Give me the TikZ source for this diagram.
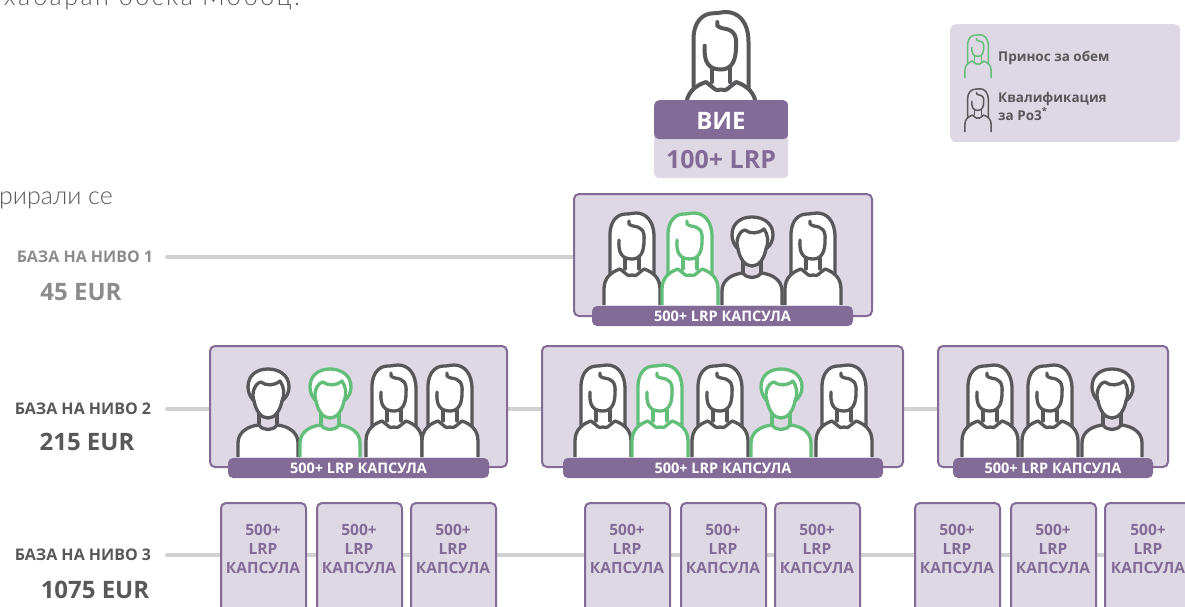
\documentclass[tikz,border=0pt]{standalone}
\usepackage{fontspec}
\setmainfont{Open Sans}
\newfontfamily\thinfont{Lato Light}
\usetikzlibrary{backgrounds}
\definecolor{capsule}{HTML}{826C97}
\definecolor{capsulelight}{HTML}{DED8E5}
\definecolor{personline}{HTML}{58585A}
\definecolor{personadd}{HTML}{62BE78}
\definecolor{levelline}{HTML}{D1D1D3}

\begin{document}
\begin{tikzpicture}[
        x=1pt, y=-1pt,
        panel/.style={
            draw=capsule,
            line width=2pt,
            fill=capsulelight,
            rectangle,
            rounded corners=5pt,
            anchor=north west,
            outer sep=0pt,
            inner sep=0pt
        },
        band/.style={
            fill=capsule,
            rectangle,
            rounded corners=5pt,
            minimum height=20pt,
            inner sep=0pt,
            text=white,
            font=\bfseries\fontsize{14.5}{14.5}\selectfont
        },
        small/.style={
            panel,
            minimum width=85pt,
            minimum height=112pt,
        },
        smalltext/.style={
            text=capsule,
            align=center,
            font=\bfseries\fontsize{15.5}{19}\selectfont
        },
        levelname/.style={
            font=\bfseries\fontsize{16}{16}\selectfont,
            inner sep=0pt
        },
        levelsum/.style={
            font=\bfseries\fontsize{24}{24}\selectfont,
            inner sep=0pt
        },
        legendtext/.style={
            anchor=west,
            align=left,
            text=personline,
            inner sep=0pt,
            font=\bfseries\fontsize{13.5}{18}\selectfont
        },
        thintext/.style={
            inner sep=0pt,
            text=personline,
            font=\thinfont\fontsize{25}{25}\selectfont
        },
        level/.style={
            draw=levelline,
            line width=4pt,
            line cap=round
        },
        woman/.pic={
            % hair, then face and neck, then body
            \draw[fill, line join=round] (-22,-30) -- (-22,-70) .. controls (-22,-85) and (-14,-91) .. (-6,-91)
                .. controls (-2,-91) and (1,-92) .. (4,-92) .. controls (14,-92) and (22,-84) .. (22,-68) -- (22,-30);
            \draw[line cap=round] (-13,-65) .. controls (-14,-52) and (-10,-46) .. (0,-46)
                .. controls (9,-46) and (12,-54) .. (12,-64) .. controls (13,-75) and (9,-78) .. (1,-79)
                .. controls (-3,-80) and (-4,-82) .. (-3,-84);
            \draw[line cap=round] (-7,-47) -- (-7,-36) (7,-47) -- (7,-36);
            \draw[fill, line join=round] (-28,0) -- (-28,-16) .. controls (-28,-27) and (-21,-33) .. (-12,-36)
                -- (-7,-32) .. controls (-4,-29) and (-2,-29) .. (0,-30) .. controls (2,-29) and (4,-29) .. (7,-32)
                -- (12,-36) .. controls (21,-33) and (28,-27) .. (28,-16) -- (28,0);
        },
        man/.pic={
            % neck, then body, then head with its fringe
            \draw (-9,-44) -- (-9,-32) (9,-44) -- (9,-32);
            \draw[fill, line join=round] (-30,0) -- (-30,-14) .. controls (-30,-25) and (-20,-31) .. (-9,-32)
                .. controls (-5,-26) and (5,-26) .. (9,-32) .. controls (20,-31) and (30,-25) .. (30,-14) -- (30,0);
            \draw[fill, line join=round] (-14,-56) .. controls (-12,-46) and (-7,-39) .. (0,-39)
                .. controls (7,-39) and (12,-46) .. (14,-56)
                .. controls (19,-60) and (21,-65) .. (21,-70)
                .. controls (21,-82) and (11,-88) .. (0,-88)
                .. controls (-11,-88) and (-20,-82) .. (-20,-70)
                .. controls (-20,-65) and (-18,-60) .. (-14,-56) -- cycle;
            \draw[line join=round] (-14,-56) .. controls (-17,-64) and (-13,-74) .. (-7,-75)
                .. controls (-2,-71) and (6,-71) .. (12,-76) .. controls (16,-71) and (17,-62) .. (14,-56);
        }
    ]
        \clip (0,0) rectangle (1185,606);

        % Cut off text on the left
        \node[thintext, anchor=base east, text height=0pt] (textone) at (300,5) {\addfontfeature{LetterSpace=10}хабаран боска Мобоц.};
        \node[thintext, anchor=base east] (texttwo) at (113,204) {рирали се};

        % Legend
        \node[anchor=north west, fill=capsulelight, rounded corners=6pt, minimum width=230pt, minimum height=118pt, inner sep=0pt] (legend) at (950,24) {};
        \pic[draw=personadd, fill=capsulelight, line width=1.5pt, scale=0.47] at (978,78) {woman};
        \pic[draw=personline, fill=capsulelight, line width=1.5pt, scale=0.47] at (978,132) {woman};
        \node[legendtext] (legendone) at (998,58) {Принос за обем};
        \node[legendtext] (legendtwo) at (998,106) {Квалификация\\за Ро3\textsuperscript{*}};

        % You
        \pic[draw=personline, fill=white, line width=4pt, scale=1.25] at (721,127) {woman};
        \node[anchor=north west, fill=capsulelight, rounded corners=5pt, minimum width=134pt, minimum height=78pt, inner sep=0pt,
            path picture={\fill[capsule] (-67,-39) rectangle (67,0);}] (you) at (654,100) {};
        \node[text=white, inner sep=0pt, font=\bfseries\fontsize{24}{24}\selectfont] (youname) at (721,121) {ВИЕ};
        \node[text=capsule, inner sep=0pt, font=\bfseries\fontsize{25}{25}\selectfont] (youlrp) at (721,160) {100+ LRP};

        % Level 1
        \node[panel, minimum width=298pt, minimum height=122pt] (boxone) at (574,194) {};
        \foreach \x/\c/\t in {632/personline/woman,690/personadd/woman,752/personline/man,813/personline/woman} {
            \pic[draw=\c, fill=white, line width=3.3pt] at (\x,305) {\t};
        }
        \node[band, minimum width=261pt] (bandone) at (722.5,316) {500+ LRP КАПСУЛА};

        % Level 2
        \node[panel, minimum width=297pt, minimum height=121pt] (boxa) at (210,346) {};
        \node[panel, minimum width=361pt, minimum height=121pt] (boxb) at (542,346) {};
        \node[panel, minimum width=230pt, minimum height=121pt] (boxc) at (938,346) {};
        \foreach \x/\c/\t in {268/personline/man,330/personadd/man,394/personline/woman,450/personline/woman,
            603/personline/woman,660/personadd/woman,720/personline/woman,781/personadd/man,844/personline/woman,
            990/personline/woman,1050/personline/woman,1112/personline/man} {
            \pic[draw=\c, fill=white, line width=3.3pt] at (\x,457) {\t};
        }
        \node[band, minimum width=261pt] (banda) at (358.5,468) {500+ LRP КАПСУЛА};
        \node[band, minimum width=320pt] (bandb) at (723,468) {500+ LRP КАПСУЛА};
        \node[band, minimum width=200pt] (bandc) at (1053,468) {500+ LRP КАПСУЛА};

        % Level 3
        \foreach \n/\x/\m in {1/221/263,2/317/359,3/411/453,4/585/627,5/681/723,6/775/817,7/915/957,8/1011/1053,9/1105/1148} {
            \node[small] (cap\n) at (\x,503) {};
            \node[smalltext] (captext\n) at (\m,549) {500+\\LRP\\КАПСУЛА};
        }

        % Level labels
        \node[levelname, text=black!45] (nameone) at (85,257) {БАЗА НА НИВО 1};
        \node[levelsum, text=black!45] (sumone) at (81,292) {45 EUR};
        \node[levelname, text=personline] (nametwo) at (83,409) {БАЗА НА НИВО 2};
        \node[levelsum, text=personline] (sumtwo) at (87,442) {215 EUR};
        \node[levelname, text=personline] (namethree) at (83,555) {БАЗА НА НИВО 3};
        \node[levelsum, text=personline] (sumthree) at (95,590) {1075 EUR};

        % Lines behind the boxes
        \coordinate (lineone) at (167,257);
        \coordinate (linetwo) at (167,409);
        \coordinate (linethree) at (167,555);
        \begin{scope}[on background layer]
            \draw[level] (lineone) -- (lineone -| boxone.west);
            \draw[level] (linetwo) -- (linetwo -| boxa.west);
            \draw[level] (linetwo -| boxa.east) -- (linetwo -| boxb.west);
            \draw[level] (linetwo -| boxb.east) -- (linetwo -| boxc.west);
            \draw[level] (linethree) -- (linethree -| cap1.west);
            \foreach \a/\b in {1/2,2/3,3/4,4/5,5/6,6/7,7/8,8/9} {
                \draw[level] (linethree -| cap\a.east) -- (linethree -| cap\b.west);
            }
        \end{scope}
    \end{tikzpicture}
\end{document}
